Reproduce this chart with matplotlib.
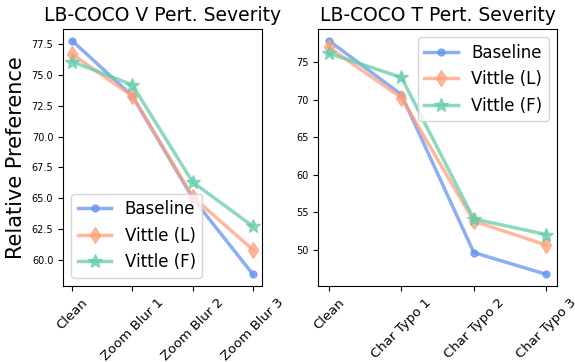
import matplotlib
matplotlib.use("Agg")
import matplotlib.pyplot as plt

# values
v_labels = ["Clean", "Zoom Blur 1", "Zoom Blur 2", "Zoom Blur 3"]
v_baseline = [77.8, 73.3, 65.0, 58.8]
v_vittle_l = [76.7, 73.3, 65.1, 60.8]
v_vittle_f = [76.1, 74.2, 66.3, 62.7]

t_labels = ["Clean", "Char Typo 1", "Char Typo 2", "Char Typo 3"]
t_baseline = [77.9, 70.7, 49.6, 46.7]
t_vittle_l = [77.0, 70.3, 53.8, 50.6]
t_vittle_f = [76.2, 73.0, 54.1, 52.0]

series_names = ["Baseline", "Vittle (L)", "Vittle (F)"]
colors = ["cornflowerblue", "lightsalmon", "mediumaquamarine"]
markers = ["o", "d", "*"]
msizes = [5, 8.5, 10]

fig = plt.figure(figsize=(5.75, 3.62), dpi=100)
ax1 = fig.add_axes([0.1096, 0.21, 0.346, 0.71])
ax2 = fig.add_axes([0.553, 0.21, 0.416, 0.71])


def draw(ax, labels, data, title, loc):
    x = list(range(len(labels)))
    for vals, name, c, m, ms in zip(data, series_names, colors, markers, msizes):
        ax.plot(x, vals, color=c, marker=m, markersize=ms, linewidth=2.5,
                alpha=0.75, label=name)
    ax.set_xticks(x)
    ax.set_xticklabels(labels, rotation=45, fontsize=9.5)
    ax.tick_params(axis="y", labelsize=7)
    ax.set_title(title, fontsize=13.5)
    ax.legend(loc=loc, fontsize=12)


draw(ax1, v_labels, [v_baseline, v_vittle_l, v_vittle_f],
     "LB-COCO V Pert. Severity", "lower left")
draw(ax2, t_labels, [t_baseline, t_vittle_l, t_vittle_f],
     "LB-COCO T Pert. Severity", "upper right")
ax1.set_ylabel("Relative Preference", fontsize=15)

fig.savefig("out.png", dpi=100)
